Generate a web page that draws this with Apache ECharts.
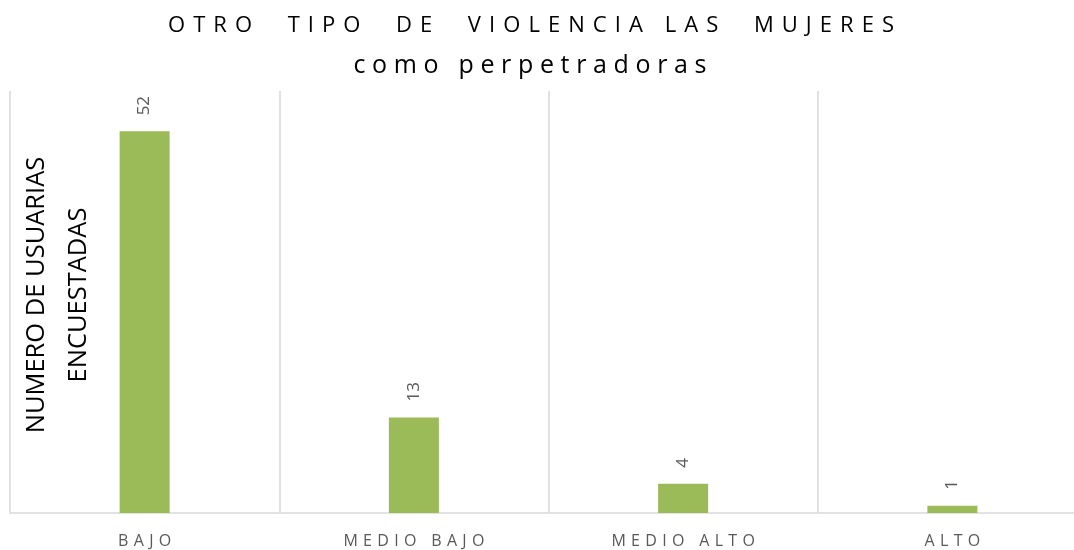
<!DOCTYPE html>
<html>
<head>
<meta charset="utf-8">
<script src="https://cdn.jsdelivr.net/npm/echarts@6/dist/echarts.min.js"></script>
<style>html,body{margin:0;padding:0;background:#fff}#c{width:1074px;height:550px}</style>
</head>
<body>
<div id="c"></div>
<script>
var categories = ['BAJO', 'MEDIO BAJO', 'MEDIO ALTO', 'ALTO'];
var values = [52, 13, 4, 1];
var titleLine1 = 'OTRO  TIPO  DE  VIOLENCIA LAS  MUJERES';
var titleLine2 = 'como perpetradoras';
var yName = 'NUMERO DE USUARIAS\nENCUESTADAS';

function spaced(s, sep) {
  return s.split('').join(sep);
}

var chart = echarts.init(document.getElementById('c'));
chart.setOption({
  backgroundColor: '#fff',
  animation: false,
  title: [{
    text: spaced(titleLine1, '\u2009\u200A\u200A'),
    left: 526, top: 10, textAlign: 'center',
    textStyle: {fontFamily: 'Open Sans', fontSize: 22, fontWeight: 'normal', color: '#000'}
  }, {
    text: spaced(titleLine2, '\u2009\u200A'),
    left: 525, top: 48, textAlign: 'center',
    textStyle: {fontFamily: 'Open Sans', fontSize: 25, fontWeight: 'normal', color: '#000'}
  }],
  graphic: [{
    type: 'text',
    x: 58, y: 295,
    rotation: Math.PI / 2,
    style: {
      text: yName,
      align: 'center', verticalAlign: 'middle',
      fontFamily: 'Open Sans', fontSize: 25.5, lineHeight: 42, fill: '#000'
    }
  }],
  grid: {left: 10, right: -13, top: 91, bottom: 37, containLabel: false, outerBoundsMode: 'none'},
  xAxis: {
    type: 'category',
    data: categories,
    axisLine: {show: true, lineStyle: {color: '#D9D9D9', width: 1.5}},
    axisTick: {show: false},
    splitLine: {show: true, lineStyle: {color: '#D9D9D9', width: 1.5}},
    axisLabel: {
      color: '#595959', fontFamily: 'Open Sans', fontSize: 16, margin: 20,
      formatter: function (v) { return spaced(v, '\u2009\u2009'); }
    }
  },
  yAxis: {
    type: 'value', min: 0, max: 57.5,
    show: true,
    axisLine: {show: false}, axisTick: {show: false}, axisLabel: {show: false},
    splitLine: {show: false}
  },
  series: [{
    type: 'bar',
    data: values,
    barWidth: 50,
    itemStyle: {color: '#9BBB59'},
    label: {
      show: true, position: 'top', rotate: 90, align: 'left', verticalAlign: 'middle',
      distance: 16, color: '#595959', fontFamily: 'Open Sans', fontSize: 17
    }
  }]
});
</script>
</body>
</html>
